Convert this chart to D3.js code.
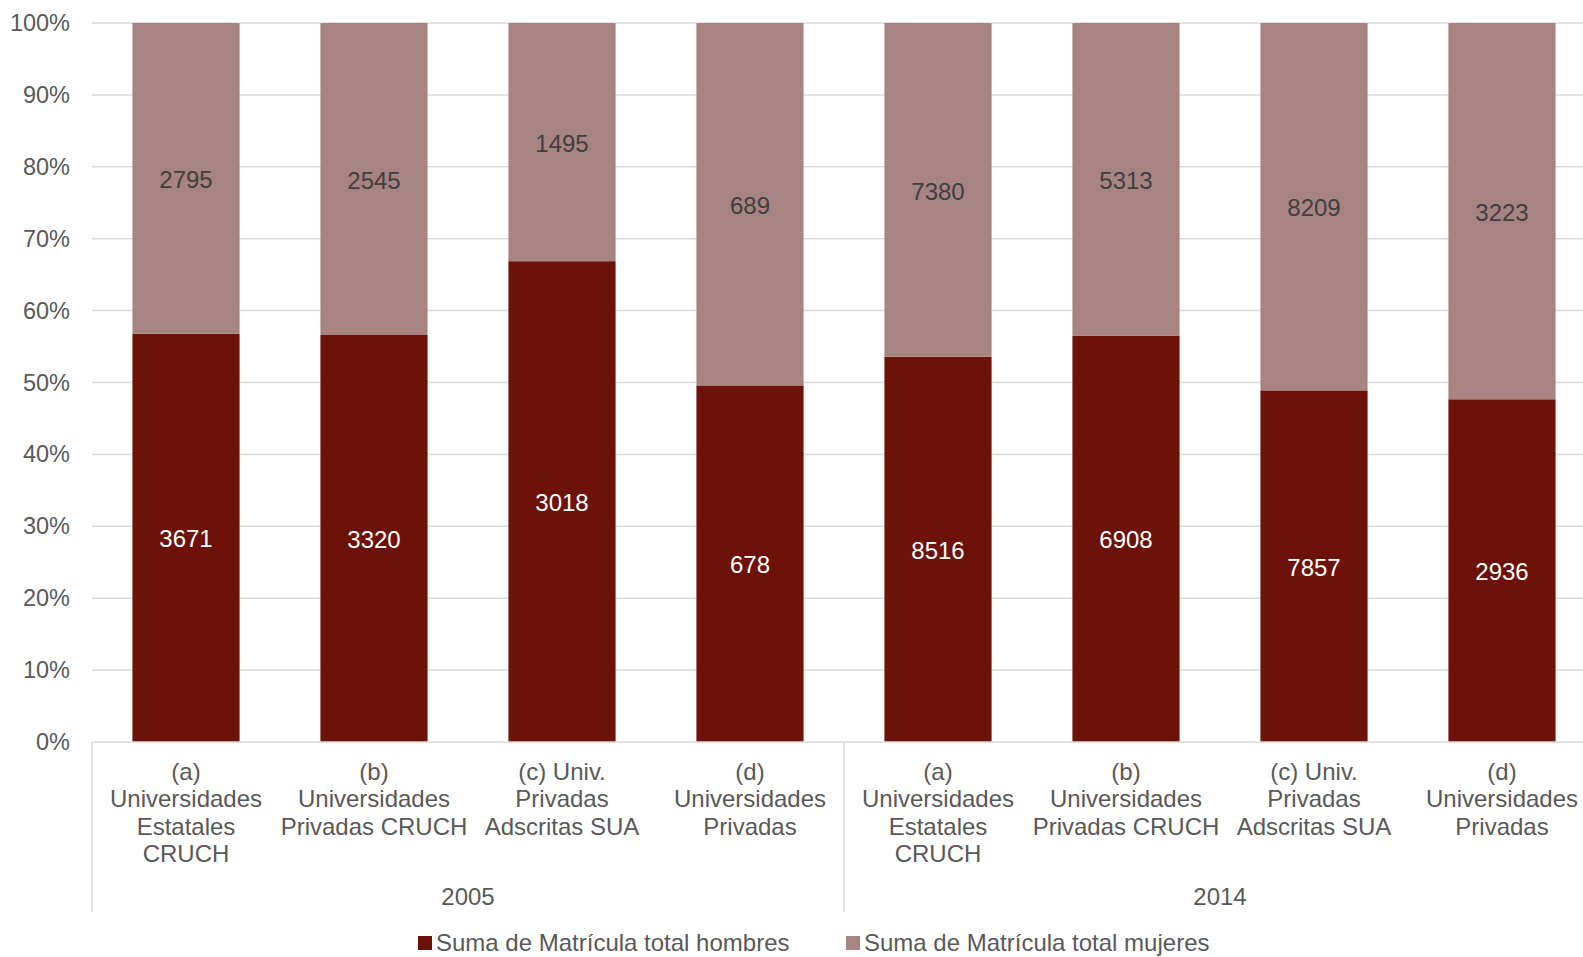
<!DOCTYPE html>
<html><head><meta charset="utf-8">
<script src="https://cdn.jsdelivr.net/npm/d3@7"></script>
<style>body{margin:0;background:#fff;overflow:hidden}svg{display:block;font-family:"Liberation Sans",Arial,sans-serif}</style>
</head><body>
<svg id="c" width="1583" height="957"></svg>
<script>
const years = ["2005", "2014"];
const categories = [
  ["(a)", "Universidades", "Estatales", "CRUCH"],
  ["(b)", "Universidades", "Privadas CRUCH"],
  ["(c) Univ.", "Privadas", "Adscritas SUA"],
  ["(d)", "Universidades", "Privadas"]
];
const hombres = [3671, 3320, 3018, 678, 8516, 6908, 7857, 2936];
const mujeres = [2795, 2545, 1495, 689, 7380, 5313, 8209, 3223];
const seriesNames = ["Suma de Matrícula total hombres", "Suma de Matrícula total mujeres"];
const yTicks = [0, 0.1, 0.2, 0.3, 0.4, 0.5, 0.6, 0.7, 0.8, 0.9, 1];

(function () {
const colors = ["#6D1208", "#A78381"];
const svg = d3.select("#c");
const mLeft = 92, mTop = 23, mBottom = 742, step = 188;
const keys = [];
years.forEach((yv, yi) => categories.forEach((c, ci) => keys.push(yi * categories.length + ci)));
const x = d3.scaleBand().domain(keys).range([mLeft, mLeft + step * keys.length]).paddingInner(0.43).paddingOuter(0.215);
const y = d3.scaleLinear().domain([0, 1]).range([mBottom, mTop]);

// gridlines
svg.append("g").selectAll("line").data(yTicks.filter(t => t > 0)).join("line")
  .attr("x1", mLeft).attr("x2", 1583).attr("y1", d => y(d)).attr("y2", d => y(d))
  .attr("stroke", "#D9D9D9").attr("stroke-width", 1.5);

// y axis labels
const yAxis = d3.axisLeft(y).tickValues(yTicks).tickFormat(d3.format(".0%")).tickSize(0).tickPadding(22);
const ya = svg.append("g").attr("transform", `translate(${mLeft},0)`).call(yAxis);
ya.select(".domain").remove();
ya.selectAll("text").attr("font-size", 23.5).attr("fill", "#595959").attr("font-family", "Liberation Sans, Arial, sans-serif");

// stacked data
const data = keys.map(k => {
  const t = hombres[k] + mujeres[k];
  return {k, h: hombres[k], m: mujeres[k], ph: hombres[k] / t};
});
const g = svg.append("g");
g.selectAll("rect.h").data(data).join("rect").attr("class", "h")
  .attr("x", d => x(d.k)).attr("width", x.bandwidth())
  .attr("y", d => y(d.ph)).attr("height", d => y(0) - y(d.ph)).attr("fill", colors[0]);
g.selectAll("rect.m").data(data).join("rect").attr("class", "m")
  .attr("x", d => x(d.k)).attr("width", x.bandwidth())
  .attr("y", d => y(1)).attr("height", d => y(d.ph) - y(1)).attr("fill", colors[1]);

// data labels
g.selectAll("text.h").data(data).join("text").attr("class", "h")
  .attr("x", d => x(d.k) + x.bandwidth() / 2).attr("y", d => (y(0) + y(d.ph)) / 2)
  .attr("dy", "0.4em").attr("text-anchor", "middle").attr("font-size", 24).attr("fill", "#FFFFFF")
  .text(d => d.h);
g.selectAll("text.m").data(data).join("text").attr("class", "m")
  .attr("x", d => x(d.k) + x.bandwidth() / 2).attr("y", d => (y(1) + y(d.ph)) / 2)
  .attr("dy", "0.4em").attr("text-anchor", "middle").attr("font-size", 24).attr("fill", "#404040")
  .text(d => d.m);

// x axis line
svg.append("line").attr("x1", mLeft).attr("x2", 1583).attr("y1", mBottom).attr("y2", mBottom)
  .attr("stroke", "#D9D9D9").attr("stroke-width", 1.5);
// group dividers
const groupEdges = d3.range(years.length + 1).map(i => mLeft + i * step * categories.length);
svg.append("g").selectAll("line").data(groupEdges).join("line")
  .attr("x1", d => d).attr("x2", d => d).attr("y1", mBottom).attr("y2", 912)
  .attr("stroke", "#D9D9D9").attr("stroke-width", 1.5);

// category labels
const cl = svg.append("g");
keys.forEach(k => {
  const lines = categories[k % categories.length];
  const t = cl.append("text").attr("text-anchor", "middle").attr("font-size", 24).attr("fill", "#595959");
  lines.forEach((ln, i) => t.append("tspan").attr("x", x(k) + x.bandwidth() / 2).attr("y", 780 + i * 27.3).text(ln));
});
// year labels
svg.append("g").selectAll("text").data(years).join("text")
  .attr("x", (d, i) => (groupEdges[i] + groupEdges[i + 1]) / 2).attr("y", 905)
  .attr("text-anchor", "middle").attr("font-size", 24).attr("fill", "#595959").text(d => d);

// legend
const legX = [418, 846];
const lg = svg.append("g");
seriesNames.forEach((s, i) => {
  lg.append("rect").attr("x", legX[i]).attr("y", 936).attr("width", 14).attr("height", 14).attr("fill", colors[i]);
  lg.append("text").attr("x", legX[i] + 18).attr("y", 951).attr("font-size", 24).attr("fill", "#595959").text(s);
});
})();
</script>
</body></html>
